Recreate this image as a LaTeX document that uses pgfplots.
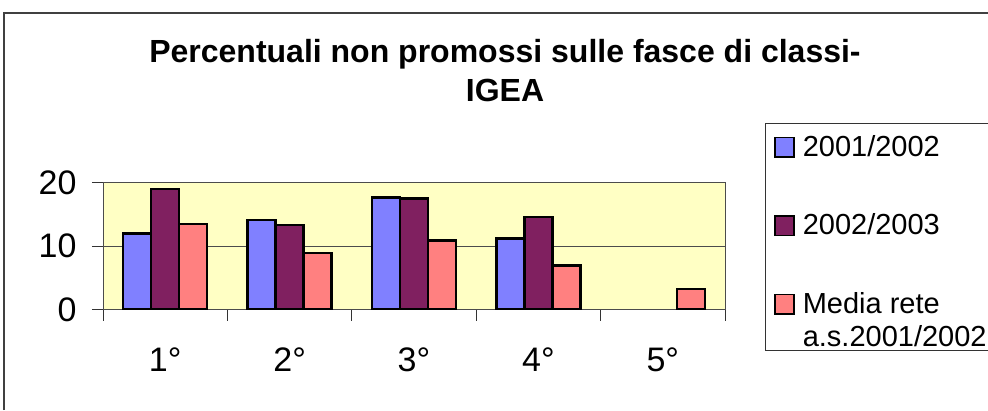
\documentclass[border=0pt]{standalone}
\usepackage{fontspec}
\setmainfont{Liberation Sans}
\usepackage{pgfplots}
\pgfplotsset{compat=1.18}
\definecolor{cblue}{HTML}{8080FF}
\definecolor{cpurple}{HTML}{802060}
\definecolor{csalmon}{HTML}{FF8080}
\definecolor{cback}{HTML}{FFFFC4}
\begin{document}
\begin{tikzpicture}[x=1pt,y=1pt]
\useasboundingbox (0,0) rectangle (988,410);
\draw[line width=1.5pt, black!75] (4,0) -- (4,397) -- (992,397);
\node[font=\fontsize{32}{39}\selectfont\bfseries, align=center, anchor=north, inner sep=0pt] at (505,370.5) {Percentuali non promossi sulle fasce di classi-\\IGEA};
\begin{axis}[
  at={(103pt,100.5pt)}, anchor=south west, scale only axis,
  width=622pt, height=127pt,
  xmin=0.5, xmax=5.5, ymin=0, ymax=20,
  ybar=0pt, bar width=28pt,
  axis background/.style={fill=cback},
  axis line style={black!70, line width=1pt},
  xtick={0.5,1.5,2.5,3.5,4.5,5.5},
  xticklabels={1°,2°,3°,4°,5°},
  x tick label as interval,
  ytick={0,10,20},
  ymajorgrids, grid style={black!70, line width=0.8pt},
  tick align=outside, tick pos=left,
  major tick length=11pt,
  tick style={black!80, line width=1pt},
  /pgf/number format/assume math mode=true,
  tick label style={font=\fontsize{34}{40}\selectfont},
  yticklabel style={xshift=-12pt},
  xticklabel style={yshift=-24pt},
  legend style={at={(rel axis cs:1.064,1.469)}, anchor=north west,
    draw=black!80, line width=1pt,
    font=\fontsize{29}{33}\selectfont,
    nodes={inner sep=0pt},
    cells={anchor=base west}, row sep=56pt, column sep=8pt,
    inner xsep=9pt, inner ysep=3pt},
  legend image code/.code={\draw[#1, line width=1.5pt] (0pt,-0.5pt) rectangle (19pt,19pt);},
]
\addplot[fill=cblue, draw=black, line width=2.5pt] coordinates {(1,12.0) (2,14.1) (3,17.6) (4,11.2)};
\addlegendentry{\rule{0pt}{30pt}2001/2002}
\addplot[fill=cpurple, draw=black, line width=2.5pt] coordinates {(1,19.0) (2,13.3) (3,17.5) (4,14.6)};
\addlegendentry{2002/2003}
\addplot[fill=csalmon, draw=black, line width=2.5pt] coordinates {(1,13.5) (2,8.9) (3,10.9) (4,6.9) (5,3.2)};
\addlegendentry[text depth=34pt]{\vtop{\hbox{Media rete}\hbox{a.s.2001/2002\kern12pt}}}
\end{axis}
\end{tikzpicture}
\end{document}
